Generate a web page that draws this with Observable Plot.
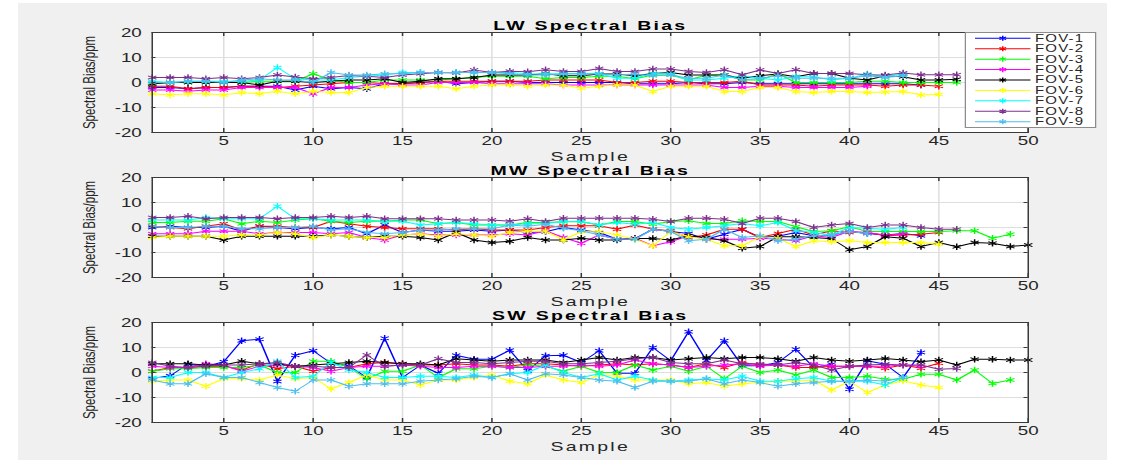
<!DOCTYPE html>
<html><head><meta charset="utf-8">
<script src="https://cdn.jsdelivr.net/npm/d3@7"></script>
<script src="https://cdn.jsdelivr.net/npm/@observablehq/plot@0.6"></script>
<style>
html,body{margin:0;padding:0;background:#fff;}
#stage{position:relative;width:748px;height:460px;transform:scale(1.5,1);transform-origin:0 0;font-family:"Liberation Sans",Arial,sans-serif;}
#bg{position:absolute;left:12px;top:3px;width:726px;height:457px;background:#f0f0f0;}
.panel{position:absolute;left:0;}
.panel svg{overflow:visible;}
#legend{position:absolute;left:643px;top:32px;}
</style></head><body>
<div id="stage"><div id="bg"></div></div>
<script>
const fovNames = ["FOV-1","FOV-2","FOV-3","FOV-4","FOV-5","FOV-6","FOV-7","FOV-8","FOV-9"];
const fovColors = ["#0000ff","#ff0000","#00ff00","#ff00ff","#000000","#ffff00","#00ffff","#7e2f8e","#4dbeee"];
const panelTitles = ["LW Spectral Bias","MW Spectral Bias","SW Spectral Bias"];
const xLabel = "Sample";
const yLabel = "Spectral Bias/ppm";
const xTicks = [5,10,15,20,25,30,35,40,45,50];
const yTicks = [-20,-10,0,10,20];
const xDomain = [1,50];
const yDomain = [-20,20];

// LW band, one list per FOV (sample 1..n)
const lwBias = [
  [-2,-2,-2.5,-2,-2,-1.5,-1.5,-1.5,-3,-1.5,-2.5,-2,-2.5,-0.5,-0.5,0,0.5,-0.5,0,0.5,0.5,0,0,0,0,0,0,-0.5,-0.5,-0.5,0,-0.5,-0.5,0,-0.5,-0.5,-0.5,-0.5,-0.5,-0.5,-0.5,-0.5,-0.5,-1],
  [-1.5,-1.5,-2.5,-2,-2,-1.5,-1.5,-2,-1.5,-1,-0.5,0,0,-0.5,-0.5,0,0.5,0.5,0.5,0.5,0.5,0.5,1,1,1,1,0,0,0.5,0.5,0,0,0,0.5,-1,-1,-1,-1.5,-1,-1,-1,-1.5,-1,-1,-1.5],
  [-0.5,0,0,0,0,0,0.5,0.5,0.5,3.5,1,0,0,1,1,1,1,1.5,2,2.5,2.5,2.5,1.5,2,2,2.5,2.5,1.5,3,3,1,3,3,1,1,3.5,0,0,0,0,0.5,0.5,0,0,0,0],
  [-3,-3,-3.5,-3,-3,-2,-2,-2,-2,-4.5,-2,-2,-1,-0.5,-1,-1,0,0,0,-0.5,-0.5,-0.5,-0.5,-1,-1,-1,-1,-1,-1,-1,-1,-1,-2,-2,-1.5,-1.5,-2,-2,-2,-2,-1.5],
  [-0.5,0,0,0,0,0,-1,0.5,0.5,0,0.5,1,1,1.5,0,0.5,1.5,1.5,2,3,3,3,3.5,2.7,2.7,3.4,3.4,2.7,3.6,4,3,3,3,1.7,2.7,3.4,2.3,3.6,3.6,1.7,1,2.7,2.3,1,1,1.3],
  [-4.5,-5,-4.5,-4.5,-5,-4,-4.5,-3.5,-4.5,-3.5,-4,-4,-2,-1.5,-1.5,-1.5,-1.5,-2.5,-1.5,-1,-1,-1.5,-1,-1,-2.3,-1.5,-1,-1,-3.6,-1.5,-1.5,-1.5,-3.6,-3.6,-2,-2,-3.6,-4,-3.6,-3.6,-4,-3.8,-3.6,-5,-4.8],
  [0.5,0,0.5,0.5,0.5,0.5,1,6,1.5,1,1,2,2.5,3,4,4,4,4,4,4,4,3.5,3.4,3.6,3.6,3.6,1.7,1.7,3.6,3.4,1,1,1.7,2.7,1.7,1,2.3,2.3,1,1.7,3.4,2.3,3.4],
  [2,2,2,1.5,2,1.5,2,3,2.2,1.5,2,2.8,2.5,2,3,3.5,4,3.8,5,4,4.5,4.3,5.1,4.4,4.4,5.6,4.4,4.4,5.4,5.4,4.4,4,5.1,3.1,5,3.6,5.1,3.6,3.6,3.6,3.1,3,3.8,3.1,3.1,3.1],
  [0,0,0.5,0.5,0,1,1.5,1,1,0,4,3,3,3.5,3.5,4,4,4,4,4,3.5,3,3,3.4,3.4,3.4,3,3.4,2.7,3,1.7,1.7,3,1,1.7,2.7,1.7,1.7,1.7,1.7,2.7,2,2.7]
];

// MW band
const mwBias = [
  [0,0.5,0,0,0.5,-1.5,0.5,0,-0.5,0,-0.5,0,-2.5,1,-2,-1,-1.5,-1.5,-1,-1.5,-1,-2,-1.7,0,-1,-2,-4.7,-4.5,-0.7,-1.6,-2.4,-4.7,-2.7,-0.7,-4,-3.5,-2,-3.3,-3,-1.6,-2.4,-3,-2.4,-3.3],
  [0.5,0,-0.5,0.5,1.5,-1,0.5,0.5,0,0,2.5,1.5,0.5,0,-0.5,-0.5,-0.5,-1,-0.5,-1,-1,-1,0,0.7,0.7,0.7,-0.7,1,-0.7,-1.3,-4,-3,-0.7,-0.7,-4,-2.4,-0.7,-3,-1.3,-2,-2,-3.3,-3,-2.7,-2],
  [2,2,2.5,2.5,3.5,1.5,2.5,2,3,3.5,2.5,2,2.5,2.5,3,3,1.5,2,1,1,1,2,2,2.3,2.3,1,2.4,2.4,1.3,2.4,2.7,1.6,1.6,2.7,2.4,2.4,0.3,-1.6,-1.3,0.3,-1.6,-1.6,-1.6,-1.6,-1.6,-1.3,-1.3,-4.3,-2.7],
  [-2.5,-2.5,-2.5,-1.5,-1.5,-1.5,-2.5,-2,-2,-2,-2.5,-2,-4,-5,-3,-2.5,-3,-3,-3,-3,-2.5,-3,-1.3,-4,-6.3,-3,-4.7,-4.3,-7.3,-5.7,-3.3,-4.7,-4.7,-4.7,-4.3,-4.7,-5.3,-3.3,-4,-1.5,-2,-3,-2.7],
  [-3.5,-3.5,-3.5,-3.5,-5,-3.5,-3.5,-3.5,-3.5,-3.5,-3,-3.5,-4,-3.5,-3.5,-4,-5,-2,-5,-6,-5.5,-4,-5,-5,-4.3,-5,-5,-4.4,-4.4,-5,-3.3,-4,-5.3,-8.3,-7.6,-3.7,-3.7,-4,-4.5,-8.9,-7.6,-3.7,-4.3,-7.6,-6,-7.7,-6,-6.3,-7.6,-7],
  [-4,-3.5,-3.5,-3.5,-3.5,-3,-3,-2,-2.5,-4,-3,-3.5,-4,-4,-3,-2.5,-3.5,-2.5,-3,-3.5,-2,-1.5,-1.5,-4.9,-1.7,-1.7,-3,-4.7,-7.3,-1.7,-3.7,-4.7,-7.3,-7.3,-3.7,-4.3,-7.6,-5.3,-5.7,-5.3,-6,-6,-6,-6,-6.7],
  [3,3,3,4,3.5,3.5,3.5,8.5,3.5,3.5,3,3,3,2.5,2.5,1,1.5,2,1.5,1,1,1.5,1.6,2.4,2.4,1,2,1.3,2,0,-0.7,0,0.7,1.6,0.7,2,-1.2,-2,-3,0,-0.3,-0.7,0],
  [4,4,4.5,3.5,4,4,4,3.5,4,4,4.5,4,4.5,3.5,3.5,3.5,3.5,3,3,3,2.5,3.5,2.4,3.7,3.7,3.7,3.7,3.7,3.3,2.4,3.7,3.7,3.3,1.6,3.7,3.7,2.4,0,1,1.6,0,1,1,0,-0.7,-0.7],
  [0.5,0,0,0.5,0.5,-0.5,-0.5,0,0,0.5,-1,-0.5,-2,-2.5,-2,-1,-1,-0.5,-0.5,-0.5,1,0.5,1.3,-0.3,-1.3,-3,-4.7,-4.7,-0.7,-1.6,-5.3,-4.7,-0.7,-4,-3.3,-5.3,-4.7,-3.3,-3,-1.6,-2.4]
];

// SW band
const swBias = [
  [-2.4,-1.3,3.3,2.4,4.3,12.7,13.3,-3.6,6.9,8.7,3.7,2.7,-2,13.7,-2,2.9,-0.3,6.9,5.3,5.3,8.9,0.7,6.7,6.9,4,8.7,-0.3,-0.3,10,4.7,16.3,4.7,12.7,2.7,2.7,4,9.3,2,3.3,-6.7,4.7,3.3,-2,8],
  [0.5,2,2,2.5,2.5,1,3.5,1.5,2.5,0.5,2,2,3.5,4,3.5,3,3,3.5,3,3,2.5,3.5,3.5,3,2.5,3,3.5,3,3.5,3,2,3.5,2,4,3,3,2,2,2.5,2.5,2.5,1.7,3,1.7,3.7],
  [0.5,1.5,1.5,2,2,2,3,0,0,4.5,4.5,2,-2.5,0.5,0.5,3,-2,1.5,1.5,2.5,2,3,2.5,0.5,2.5,0,0,3,1,2.5,0.5,2.5,-2.5,2.5,0,1,-1,1,-2,-2,-1.5,-2.7,-2.7,-0.7,-0.7,-3,1,-4.4,-3],
  [2.5,2,2,3.5,3,0.5,2.5,3,2.5,2,0.5,2,2.5,2.5,3,2.5,2,2,2.5,2.5,2,2,2.5,2.5,3,2.5,3,5,3.5,3,2,2.5,3,3.5,2.5,3,2.5,3.5,2.5,2.5,2.5,2.5,3,2.5],
  [3.5,3.5,3.5,3,3,4.5,3.5,3.5,2.5,3,3.5,4,4.5,4,3.5,3.5,3,5.5,5,4.5,5,5,5,4,5,6,5,6,6,5,5.5,6,5.5,6,6,5.5,4.5,6,5,4.5,5,5.6,5,4.3,5,3,5.3,5.3,5,5],
  [-3.5,-3,-3,-5.5,-2.5,-2.5,-3,-1,-2.5,-2,-6.5,-4,-1,-3,-3,-5,-3,-3,-2,-1,-3.5,-4.5,-1,-3,-4,-1,-1.5,-3,-3,-3,-4.5,-4,-5.5,-4.5,-4,-3.5,-3.5,-3,-7,-3.5,-8,-5,-3.3,-5,-6],
  [-2,-2,0,0,-2,0,1.5,4.5,-2,-1.5,4,1,0,-2,-2,-1.5,-1.5,-2,-1,-2,-0.5,0,3,0,-2,-0.5,-3,-1.5,-3,-3.5,-3,-2.5,-3,-1.5,-3.5,-3.5,-2.5,-2,-3.5,-3.5,-3.5,-5,-2],
  [4,2.5,2,2.5,3,3,3.5,4,2.5,2.5,2,2,7,2.5,3,3,5.5,4,4,3.5,4,4.5,4.5,3.5,3.5,4,4.5,5.5,6,4,3.5,3.5,5,3.5,3.5,3,4,3,1,2.5,3,3.3,3,3,1.3,1.6],
  [-3,-4.5,-4.5,-0.5,-2,-2,-4,-6,-7.5,-3,-3,-5.5,-4.5,-4.5,-4.5,-3.5,-3,-2.5,-1.5,-2,-0.5,-3,-0.5,-1,-2,-3,-3.5,-6,-3.5,-3.5,-3.5,-2.5,-4.5,-3,-4,-5.5,-4.5,-4,-3.5,-3.5,-3,-3.5,-2]
];

const bands = [lwBias, mwBias, swBias];

// layout (pre-stretch coordinates)
const W = 748, H = 160, mL = 101, mR = 63, mT = 32, mB = 28, panelStep = 145;
const tickPx = 4;
const plotW = W - mL - mR, plotH = H - mT - mB;
const tyLen = (yDomain[1]-yDomain[0]) * tickPx / plotH;
const txLen = (xDomain[1]-xDomain[0]) * (tickPx/1.5) / plotW;
const axisColor = "#3a3a3a";
const font = "'Liberation Sans', Arial, sans-serif";

function makePanel(title, bias) {
  const rows = bias.flatMap((vals, i) => vals.map((v, j) => ({fov: fovNames[i], sample: j + 1, bias: v})));
  const seriesMarks = fovNames.flatMap(name => {
    const d = rows.filter(r => r.fov === name);
    return [
      Plot.line(d, {x: "sample", y: "bias", stroke: "fov", strokeWidth: 1}),
      Plot.dot(d, {x: "sample", y: "bias", stroke: "fov", symbol: "asterisk", r: 3, strokeWidth: 1})
    ];
  });
  const svg = Plot.plot({
    width: W, height: H,
    marginLeft: mL, marginRight: mR, marginTop: mT, marginBottom: mB,
    style: {background: "transparent", fontFamily: font, fontSize: "12.5px", color: "#262626", overflow: "visible"},
    x: {domain: xDomain},
    y: {domain: yDomain},
    color: {type: "ordinal", domain: fovNames, range: fovColors},
    marks: [
      Plot.frame({fill: "white", stroke: null}),
      Plot.gridX(xTicks.filter(t => t < xDomain[1]), {stroke: "#dedede", strokeOpacity: 1}),
      Plot.gridY(yTicks.filter(t => t > yDomain[0] && t < yDomain[1]), {stroke: "#dedede", strokeOpacity: 1}),
      ...seriesMarks,
      Plot.frame({stroke: axisColor, strokeWidth: 1}),
      Plot.ruleX(xTicks, {y1: yDomain[0], y2: yDomain[0] + tyLen, stroke: axisColor}),
      Plot.ruleX(xTicks, {y1: yDomain[1], y2: yDomain[1] - tyLen, stroke: axisColor}),
      Plot.ruleY(yTicks, {x1: xDomain[0], x2: xDomain[0] + txLen, stroke: axisColor}),
      Plot.ruleY(yTicks, {x1: xDomain[1], x2: xDomain[1] - txLen, stroke: axisColor}),
      Plot.axisX(xTicks, {tickSize: 0, tickPadding: 4, tickFormat: d => String(d), label: null, fill: "#262626"}),
      Plot.axisY(yTicks, {tickSize: 0, tickPadding: 7, tickFormat: d => String(d), label: null, fill: "#262626"}),
      Plot.text([title], {frameAnchor: "top", lineAnchor: "middle", textAnchor: "middle", dy: -7, fontWeight: "bold", fontSize: 13, fill: "#000"}),
      Plot.text([xLabel], {frameAnchor: "bottom", lineAnchor: "middle", textAnchor: "middle", dy: 24, fontSize: 13, fill: "#262626"}),
      Plot.text([yLabel], {frameAnchor: "left", lineAnchor: "middle", textAnchor: "middle", rotate: -90, dx: -42, fontSize: 11.5, fill: "#262626"})
    ]
  });
  // letter spacing to match the reference's wide text
  d3.select(svg).selectAll("text").filter(function() { return this.textContent === title; }).attr("letter-spacing", "1.5px");
  d3.select(svg).selectAll("text").filter(function() { return this.textContent === xLabel; }).attr("letter-spacing", "1.5px");
  return svg;
}

const stage = document.getElementById("stage");
bands.forEach((bias, k) => {
  const div = document.createElement("div");
  div.className = "panel";
  div.style.top = (k * panelStep) + "px";
  div.appendChild(makePanel(panelTitles[k], bias));
  stage.appendChild(div);
});

// legend
const legW = 88, legH = 96, rowY0 = 6.3, rowStep = 10.42;
const leg = d3.select(stage).append("svg").attr("id", "legend")
  .attr("width", legW).attr("height", legH);
leg.append("rect").attr("x", 0.5).attr("y", 0.5).attr("width", legW - 1).attr("height", legH - 1)
  .attr("fill", "#fff").attr("stroke", "#8c8c8c");
const row = leg.selectAll("g.row").data(fovNames).join("g")
  .attr("transform", (d, i) => `translate(0,${rowY0 + i * rowStep})`);
row.append("line").attr("x1", 7).attr("x2", 44).attr("stroke", (d, i) => fovColors[i]).attr("stroke-width", 1);
row.append("path").attr("d", d3.symbol(d3.symbolAsterisk, 18)()).attr("transform", "translate(25.5,0)")
  .attr("stroke", (d, i) => fovColors[i]).attr("fill", "none").attr("stroke-width", 1);
row.append("text").attr("x", 47).attr("dy", "0.34em").text(d => d)
  .attr("font-family", font).attr("font-size", 10).attr("letter-spacing", "0.8px").attr("fill", "#262626");
</script>
</body></html>
